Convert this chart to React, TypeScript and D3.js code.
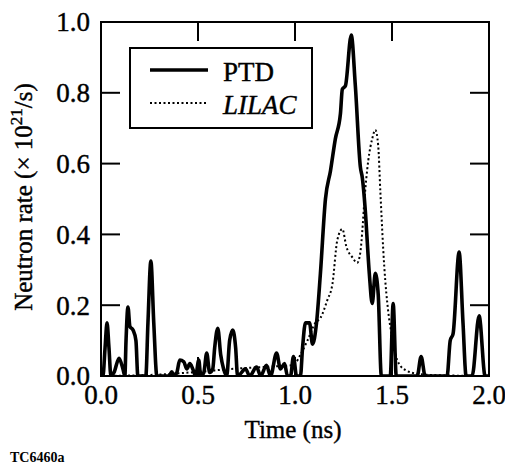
import React from "react";
import * as d3 from "d3";

// time (ns) and neutron rate (x 10^21/s)
const ptdTime = [
  0, 0.01, 0.021, 0.031, 0.041, 0.051, 0.067, 0.093, 0.113, 0.123, 0.129, 0.139, 0.149, 0.165, 0.18, 0.19,
  0.231, 0.242, 0.257, 0.272, 0.288, 0.35, 0.365, 0.375, 0.391, 0.406, 0.427, 0.442, 0.458, 0.473, 0.488,
  0.504, 0.514, 0.53, 0.545, 0.56, 0.576, 0.586, 0.602, 0.617, 0.632, 0.648, 0.663, 0.679, 0.694, 0.704,
  0.745, 0.766, 0.802, 0.823, 0.853, 0.874, 0.905, 0.925, 0.946, 0.961, 0.977, 0.992, 1.008, 1.028,
  1.039, 1.054, 1.075, 1.09, 1.111, 1.131, 1.157, 1.183, 1.208, 1.234, 1.244, 1.26, 1.29, 1.311, 1.337,
  1.347, 1.357, 1.362, 1.383, 1.398, 1.414, 1.429, 1.445, 1.491, 1.506, 1.522, 1.63, 1.65, 1.671, 1.784,
  1.8, 1.815, 1.846, 1.866, 1.882, 1.913, 1.949, 1.98, 2.0,
];
const ptdRate = [
  0, 0, 0.08, 0.15, 0.08, 0, 0.01, 0.05, 0.02, 0, 0.1, 0.195, 0.14, 0.13, 0.1, 0,
  0, 0.15, 0.325, 0.15, 0, 0, 0.012, 0, 0.01, 0.045, 0.04, 0.02, 0.035, 0.02, 0,
  0.045, 0, 0.01, 0.065, 0.01, 0.02, 0.08, 0.135, 0.06, 0.02, 0, 0.1, 0.13, 0.08, 0,
  0.02, 0, 0.025, 0, 0.03, 0, 0.065, 0.02, 0.035, 0, 0, 0.055, 0, 0,
  0.08, 0.15, 0.15, 0.09, 0.15, 0.29, 0.5, 0.58, 0.67, 0.74, 0.81, 0.82, 0.963, 0.82, 0.59,
  0.56, 0.505, 0.47, 0.29, 0.205, 0.29, 0.23, 0, 0, 0.205, 0, 0, 0.055, 0, 0,
  0.1, 0.12, 0.35, 0.15, 0, 0, 0.17, 0, 0,
];

const lilacTime = [
  0, 0.257, 0.41, 0.51, 0.67, 0.82, 0.925, 0.977, 1.003, 1.028, 1.064, 1.105, 1.131, 1.167, 1.193,
  1.218, 1.244, 1.265, 1.296, 1.321, 1.337, 1.347, 1.357, 1.378, 1.398, 1.414, 1.429, 1.44, 1.46,
  1.481, 1.501, 1.527, 1.568, 1.645, 1.748, 2.0,
];
const lilacRate = [
  0, 0.003, 0.008, 0.012, 0.02, 0.025, 0.028, 0.03, 0.037, 0.06, 0.1, 0.15, 0.164, 0.215, 0.26,
  0.384, 0.415, 0.365, 0.335, 0.32, 0.35, 0.41, 0.49, 0.61, 0.67, 0.695, 0.65, 0.52, 0.31,
  0.18, 0.11, 0.045, 0.017, 0.005, 0.002, 0,
];

const xTicks = [0, 0.5, 1.0, 1.5, 2.0];
const yTicks = [0, 0.2, 0.4, 0.6, 0.8, 1.0];

const serif = "Liberation Serif, DejaVu Serif, serif";

export default function App() {
  const W = 505;
  const H = 466;
  const x = d3.scaleLinear().domain([0, 2]).range([101, 489]);
  const y = d3.scaleLinear().domain([0, 1]).range([376, 22]);

  const line = d3
    .line<[number, number]>()
    .x((d) => x(d[0]))
    .y((d) => y(d[1]))
    .curve(d3.curveMonotoneX);

  const ptd = ptdTime.map((t, i) => [t, ptdRate[i]] as [number, number]);
  const lilac = lilacTime.map((t, i) => [t, lilacRate[i]] as [number, number]);
  const tickLen = 19;
  const ink = { stroke: "#000", strokeWidth: 0.4 };

  return (
    <svg
      width={W}
      height={H}
      style={{ position: "absolute", left: 0, top: 0, fontFamily: serif }}
    >
      <rect width={W} height={H} fill="#fff" />
      <defs>
        <clipPath id="plot">
          <rect x={x(0)} y={y(1)} width={x(2) - x(0)} height={y(0) - y(1)} />
        </clipPath>
      </defs>

      <g clipPath="url(#plot)">
        <path d={line(lilac) ?? ""} fill="none" stroke="#000" strokeWidth={2} strokeDasharray="2,2.5" />
        <path d={line(ptd) ?? ""} fill="none" stroke="#000" strokeWidth={3.6} strokeLinejoin="round" />
      </g>

      <rect x={x(0)} y={y(1)} width={x(2) - x(0)} height={y(0) - y(1)} fill="none" stroke="#000" strokeWidth={2} />

      <g {...ink}>
        {xTicks.map((t) => (
          <g key={"x" + t}>
            <line x1={x(t)} x2={x(t)} y1={y(0)} y2={y(0) - tickLen} strokeWidth={2} />
            <line x1={x(t)} x2={x(t)} y1={y(1)} y2={y(1) + tickLen} strokeWidth={2} />
            <text x={x(t)} y={404} fontSize={27} textAnchor="middle">
              {d3.format(".1f")(t)}
            </text>
          </g>
        ))}
        {yTicks.map((v) => (
          <g key={"y" + v}>
            <line x1={x(0)} x2={x(0) + tickLen} y1={y(v)} y2={y(v)} strokeWidth={2} />
            <line x1={x(2)} x2={x(2) - tickLen} y1={y(v)} y2={y(v)} strokeWidth={2} />
            <text x={90} y={y(v)} dy="0.35em" fontSize={27} textAnchor="end">
              {d3.format(".1f")(v)}
            </text>
          </g>
        ))}

        <text x={293} y={438} fontSize={25} textAnchor="middle">
          Time (ns)
        </text>
        <text transform="translate(32,197) rotate(-90)" fontSize={25} textAnchor="middle">
          Neutron rate (× 10<tspan dy="-10" fontSize={17}>21</tspan>
          <tspan dy="10">/s)</tspan>
        </text>
        <text x={10} y={462} fontSize={14} fontWeight="bold" strokeWidth={0}>
          TC6460a
        </text>

        <rect x={130} y={48} width={182} height={80} fill="#fff" strokeWidth={2} />
        <line x1={150} x2={208} y1={70} y2={70} strokeWidth={3.6} />
        <text x={223} y={81} fontSize={27}>
          PTD
        </text>
        <line x1={150} x2={208} y1={103} y2={103} strokeWidth={2} strokeDasharray="2,2.5" />
        <text x={223} y={114} fontSize={27} fontStyle="italic">
          LILAC
        </text>
      </g>
    </svg>
  );
}
